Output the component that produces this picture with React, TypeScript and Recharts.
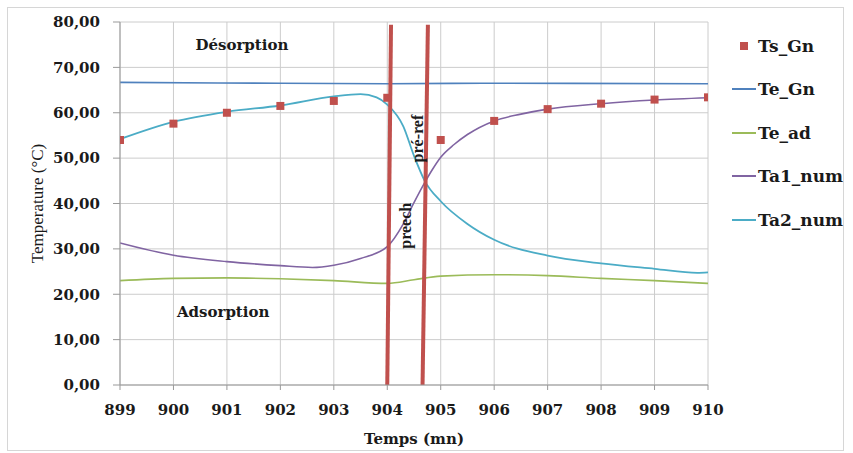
import {
  ComposedChart,
  Line,
  Scatter,
  XAxis,
  YAxis,
  CartesianGrid,
  Legend,
  ReferenceDot,
  Label,
} from "recharts";

// time axis (mn)
const timeTicks = [899, 900, 901, 902, 903, 904, 905, 906, 907, 908, 909, 910];
const tempTicks = [0, 10, 20, 30, 40, 50, 60, 70, 80];

// measured outlet temperature (squares)
const tsGn = [
  { t: 899, v: 54.0 },
  { t: 900, v: 57.6 },
  { t: 901, v: 60.0 },
  { t: 902, v: 61.5 },
  { t: 903, v: 62.6 },
  { t: 904, v: 63.3 },
  { t: 905, v: 54.0 },
  { t: 906, v: 58.2 },
  { t: 907, v: 60.8 },
  { t: 908, v: 62.0 },
  { t: 909, v: 62.9 },
  { t: 910, v: 63.4 },
];

const teGn = [
  { t: 899, v: 66.7 },
  { t: 902, v: 66.5 },
  { t: 904, v: 66.4 },
  { t: 906, v: 66.5 },
  { t: 910, v: 66.4 },
];

const teAd = [
  { t: 899, v: 23.0 },
  { t: 900, v: 23.5 },
  { t: 901, v: 23.6 },
  { t: 902, v: 23.4 },
  { t: 903, v: 23.0 },
  { t: 904, v: 22.4 },
  { t: 904.5, v: 23.2 },
  { t: 905, v: 24.0 },
  { t: 906, v: 24.3 },
  { t: 907, v: 24.1 },
  { t: 908, v: 23.5 },
  { t: 909, v: 23.0 },
  { t: 910, v: 22.4 },
];

const ta1Num = [
  { t: 899, v: 31.3 },
  { t: 900, v: 28.6 },
  { t: 901, v: 27.2 },
  { t: 902, v: 26.3 },
  { t: 902.6, v: 25.9 },
  { t: 903, v: 26.4 },
  { t: 903.5, v: 27.9 },
  { t: 904, v: 30.5 },
  { t: 904.3, v: 35.5 },
  { t: 904.5, v: 40.2 },
  { t: 904.7, v: 44.6 },
  { t: 904.85, v: 47.6 },
  { t: 905, v: 50.2 },
  { t: 905.25, v: 53.0 },
  { t: 905.5, v: 55.2 },
  { t: 906, v: 58.2 },
  { t: 906.5, v: 59.7 },
  { t: 907, v: 60.8 },
  { t: 908, v: 62.0 },
  { t: 909, v: 62.8 },
  { t: 910, v: 63.3 },
];

const ta2Num = [
  { t: 899, v: 54.2 },
  { t: 900, v: 58.0 },
  { t: 901, v: 60.2 },
  { t: 902, v: 61.6 },
  { t: 903, v: 63.6 },
  { t: 903.5, v: 64.1 },
  { t: 903.8, v: 63.4 },
  { t: 904, v: 61.8 },
  { t: 904.3, v: 57.0 },
  { t: 904.5, v: 50.5 },
  { t: 904.7, v: 45.0 },
  { t: 905, v: 40.5 },
  { t: 905.5, v: 35.5 },
  { t: 906, v: 32.0 },
  { t: 907, v: 28.5 },
  { t: 908, v: 26.8 },
  { t: 909, v: 25.6 },
  { t: 909.8, v: 24.7 },
  { t: 910, v: 24.8 },
];

// phase boundaries (red markers)
const precheLine = [
  { t: 904.0, v: 0 },
  { t: 904.07, v: 79.4 },
];
const prerefLine = [
  { t: 904.66, v: 0 },
  { t: 904.76, v: 79.4 },
];

const notes = [
  { t: 901.28, v: 75.0, text: "Désorption", angle: 0 },
  { t: 900.93, v: 16.1, text: "Adsorption", angle: 0 },
  { t: 904.56, v: 54.3, text: "pré-ref", angle: -90 },
  { t: 904.33, v: 35.1, text: "preech", angle: -90 },
];

const RED = "#c0504d";
const legendItems = [
  { name: "Ts_Gn", color: RED, square: true },
  { name: "Te_Gn", color: "#4f81bd", square: false },
  { name: "Te_ad", color: "#9bbb59", square: false },
  { name: "Ta1_num", color: "#8064a2", square: false },
  { name: "Ta2_num", color: "#4bacc6", square: false },
];

const WIDE = "'DejaVu Serif', serif";
const TIMES = "'Liberation Serif', 'Times New Roman', serif";

const fmt = (v: number) => v.toFixed(2).replace(".", ",");

function YTitle(props: any) {
  const { x, y, height } = props.viewBox;
  const cx = x + 17;
  const cy = y + height / 2;
  return (
    <text
      x={cx}
      y={cy}
      transform={`rotate(-90, ${cx}, ${cy})`}
      textAnchor="middle"
      dominantBaseline="central"
      fontFamily={TIMES}
      fontSize={17}
      fill="#1a1a1a"
    >
      Temperature (°C)
    </text>
  );
}

function LegendBox() {
  return (
    <div style={{ fontFamily: WIDE, fontWeight: "bold", fontSize: 17, color: "#1a1a1a" }}>
      {legendItems.map((it) => (
        <div key={it.name} style={{ height: 43.5, display: "flex", alignItems: "center" }}>
          <svg width={25} height={10} style={{ marginRight: 1 }}>
            {it.square ? (
              <rect x={8} y={1} width={8} height={8} fill={it.color} />
            ) : (
              <line x1={0} x2={24} y1={5} y2={5} stroke={it.color} strokeWidth={2} />
            )}
          </svg>
          <span>{it.name}</span>
        </div>
      ))}
    </div>
  );
}

export default function App() {
  return (
    <div style={{ position: "absolute", left: 0, top: 0, width: 853, height: 453, background: "#fff" }}>
      <div
        style={{
          position: "absolute",
          left: 7,
          top: 7,
          width: 835,
          height: 442,
          border: "1px solid #d6d6d6",
        }}
      />
      <ComposedChart
        width={853}
        height={453}
        margin={{ top: 22, right: 145, bottom: 8, left: 20 }}
        style={{ position: "absolute", left: 0, top: 0 }}
      >
        <CartesianGrid stroke="#cccccc" strokeWidth={1} />
        <XAxis
          type="number"
          dataKey="t"
          domain={[899, 910]}
          ticks={timeTicks}
          allowDataOverflow
          height={60}
          stroke="#999"
          tickSize={5}
          tickMargin={14}
          tick={{ fontFamily: WIDE, fontWeight: "bold", fontSize: 15, fill: "#1a1a1a" }}
        >
          <Label
            value="Temps (mn)"
            position="insideBottom"
            offset={1.5}
            style={{ fontFamily: WIDE, fontWeight: "bold", fontSize: 15, fill: "#1a1a1a" }}
          />
        </XAxis>
        <YAxis
          type="number"
          dataKey="v"
          domain={[0, 80]}
          ticks={tempTicks}
          width={100}
          stroke="#999"
          tickSize={7}
          tickMargin={13}
          tickFormatter={fmt}
          tick={{ fontFamily: WIDE, fontWeight: "bold", fontSize: 15, fill: "#1a1a1a" }}
          label={<Label content={YTitle} />}
        />
        <Legend
          align="center"
          verticalAlign="middle"
          layout="vertical"
          content={() => <LegendBox />}
          wrapperStyle={{ left: 732, top: 24 }}
        />
        <Line
          data={teGn}
          dataKey="v"
          name="Te_Gn"
          type="monotone"
          stroke="#4f81bd"
          strokeWidth={1.6}
          dot={false}
          isAnimationActive={false}
        />
        <Line
          data={teAd}
          dataKey="v"
          name="Te_ad"
          type="monotone"
          stroke="#9bbb59"
          strokeWidth={1.6}
          dot={false}
          isAnimationActive={false}
        />
        <Line
          data={ta1Num}
          dataKey="v"
          name="Ta1_num"
          type="monotone"
          stroke="#8064a2"
          strokeWidth={1.6}
          dot={false}
          isAnimationActive={false}
        />
        <Line
          data={ta2Num}
          dataKey="v"
          name="Ta2_num"
          type="monotone"
          stroke="#4bacc6"
          strokeWidth={1.8}
          dot={false}
          isAnimationActive={false}
        />
        <Scatter
          data={tsGn}
          dataKey="v"
          name="Ts_Gn"
          fill={RED}
          shape="square"
          isAnimationActive={false}
        />
        <Line
          data={precheLine}
          dataKey="v"
          type="linear"
          stroke={RED}
          strokeWidth={4}
          dot={false}
          legendType="none"
          isAnimationActive={false}
        />
        <Line
          data={prerefLine}
          dataKey="v"
          type="linear"
          stroke={RED}
          strokeWidth={4}
          dot={false}
          legendType="none"
          isAnimationActive={false}
        />
        {notes.map((n) => (
          <ReferenceDot key={n.text} x={n.t} y={n.v} r={0} fill="none" stroke="none">
            <Label
              value={n.text}
              position="center"
              angle={n.angle}
              style={{
                fontFamily: n.angle ? TIMES : WIDE,
                fontWeight: "bold",
                fontSize: n.angle ? 16 : 15,
                fill: "#1a1a1a",
              }}
            />
          </ReferenceDot>
        ))}
      </ComposedChart>
    </div>
  );
}
